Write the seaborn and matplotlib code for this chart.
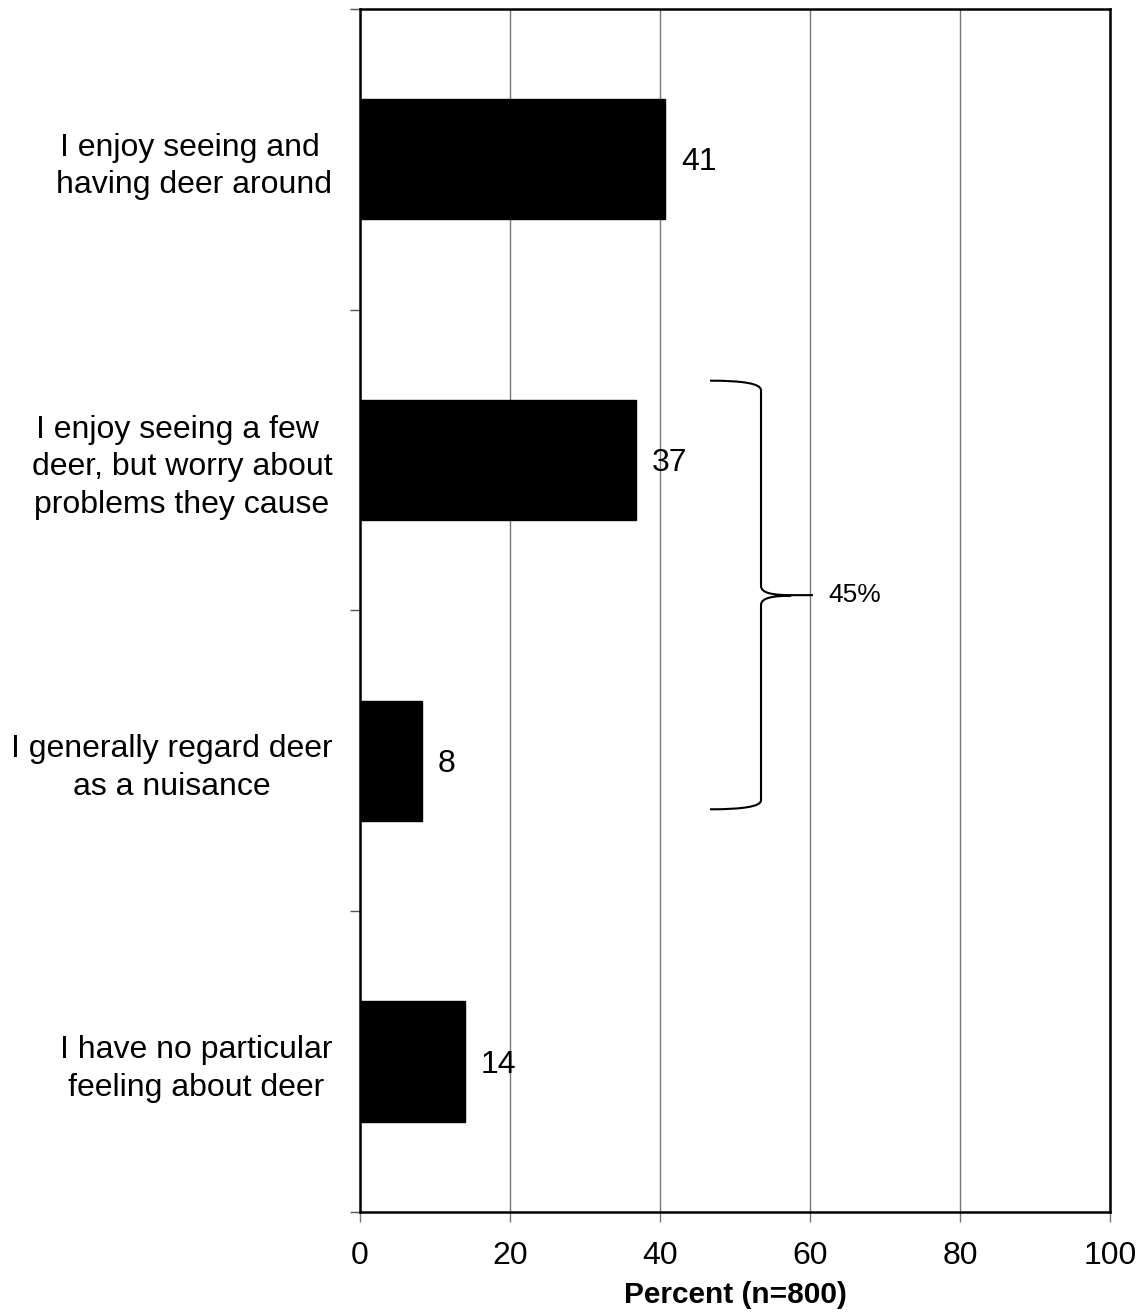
import matplotlib
matplotlib.use("Agg")
import matplotlib.pyplot as plt
import seaborn as sns
import pandas as pd
from matplotlib.path import Path
from matplotlib.patches import PathPatch

categories = [
    "I enjoy seeing and \nhaving deer around",
    "I enjoy seeing a few \ndeer, but worry about\nproblems they cause",
    "I generally regard deer\nas a nuisance",
    "I have no particular\nfeeling about deer",
]
values = [40.7, 36.8, 8.3, 14.0]
value_labels = ["41", "37", "8", "14"]
x_ticks = [0, 20, 40, 60, 80, 100]
x_label = "Percent (n=800)"
bracket_label = "45%"

sns.set_theme(style="white")
plt.rcParams["font.family"] = ["Liberation Sans", "DejaVu Sans"]
plt.rcParams["text.color"] = "black"
plt.rcParams["axes.labelcolor"] = "black"
plt.rcParams["xtick.labelcolor"] = "black"
plt.rcParams["ytick.labelcolor"] = "black"

df = pd.DataFrame({"category": categories, "value": values})

fig = plt.figure(figsize=(11.41, 13.15), dpi=100)
ax = fig.add_axes([0.3155, 0.0783, 0.9728 - 0.3155, 0.9932 - 0.0783])

sns.barplot(data=df, x="value", y="category", orient="h", color="black",
            width=0.4, saturation=1, ax=ax, zorder=3)
for p in ax.patches:
    p.set_edgecolor("black")

ax.set_xlim(0, 100)
ax.set_ylim(3.5, -0.5)
ax.set_xticks(x_ticks)
ax.set_xticklabels([str(t) for t in x_ticks], fontsize=23)
ax.xaxis.grid(True, color="#777777", linewidth=1.0, zorder=0)
ax.yaxis.grid(False)
ax.set_axisbelow(True)

ax.set_yticks(range(len(categories)))
ax.set_yticklabels(categories, fontsize=23, multialignment="center", linespacing=1.32)
ax.tick_params(axis="y", which="major", length=0, pad=20)
ax.set_yticks([-0.5, 0.5, 1.5, 2.5, 3.5], minor=True)
ax.tick_params(axis="y", which="minor", length=7, width=1, color="#555555", left=True)
ax.tick_params(axis="x", which="major", length=7, width=1, color="#777777", bottom=True, pad=14)

ax.set_xlabel(x_label, fontsize=21.5, fontweight="bold", labelpad=7)
ax.set_ylabel("")

for s in ax.spines.values():
    s.set_visible(True)
    s.set_color("black")
    s.set_linewidth(1.8)

for i, (v, lab) in enumerate(zip(values, value_labels)):
    ax.text(v + 2.1, i + 0.01, lab, fontsize=23, va="center", ha="left", zorder=5)

# bracket annotation (data coords)
verts = [
    (46.67, 0.736), (51.0, 0.736), (53.47, 0.745), (53.47, 0.768),
    (53.47, 1.418),
    (53.47, 1.442), (55.0, 1.449), (57.5, 1.449),
    (60.4, 1.449),
    (57.5, 1.451), (55.0, 1.451), (53.47, 1.458), (53.47, 1.482),
    (53.47, 2.131),
    (53.47, 2.152), (51.0, 2.161), (46.67, 2.161),
]
codes = [Path.MOVETO, Path.CURVE4, Path.CURVE4, Path.CURVE4,
         Path.LINETO,
         Path.CURVE4, Path.CURVE4, Path.CURVE4,
         Path.LINETO,
         Path.MOVETO, Path.CURVE4, Path.CURVE4, Path.CURVE4,
         Path.LINETO,
         Path.CURVE4, Path.CURVE4, Path.CURVE4]
ax.add_patch(PathPatch(Path(verts, codes), facecolor="none", edgecolor="black",
                       linewidth=1.5, zorder=4, clip_on=False))
ax.text(62.4, 1.447, bracket_label, fontsize=19, va="center", ha="left")

fig.savefig("out.png", dpi=100)
